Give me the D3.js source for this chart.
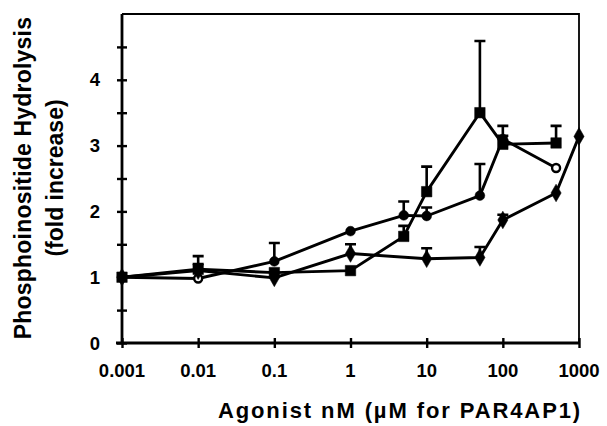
<!DOCTYPE html>
<html>
<head>
<meta charset="utf-8">
<script src="https://cdn.jsdelivr.net/npm/d3@7"></script>
<style>
  body { margin: 0; background: #fff; }
  svg { display: block; font-family: "Liberation Sans", Arial, sans-serif; }
</style>
</head>
<body>
<div id="chart"></div>
<script>
// Datos: [dosis, valor, tope de la barra de error]
const squareSeries = [
  [0.001, 1.0, null], [0.01, 1.12, 1.32], [0.1, 1.07, null], [1, 1.1, null],
  [5, 1.62, 1.78], [10, 2.3, 2.68], [50, 3.5, 4.59], [100, 3.02, 3.3], [500, 3.04, 3.3]
];
const circleSeries = [
  [0.001, 1.0, null], [0.01, 0.98, 1.2], [0.1, 1.24, 1.52], [1, 1.7, null],
  [5, 1.94, 2.15], [10, 1.93, 2.06], [50, 2.24, 2.72], [100, 3.1, 3.15], [500, 2.66, null]
];
const diamondSeries = [
  [0.001, 1.0, null], [0.01, 1.1, null], [0.1, 0.99, null], [1, 1.36, 1.5],
  [10, 1.28, 1.44], [50, 1.3, 1.46], [100, 1.87, 1.95], [500, 2.28, null], [1000, 3.14, null]
];
const openCircleAt = [0.01, 500];
const xTicks = [0.001, 0.01, 0.1, 1, 10, 100, 1000];
const xTickLabels = ["0.001", "0.01", "0.1", "1", "10", "100", "1000"];
const yTicks = [0, 1, 2, 3, 4];

const width = 607, height = 426;
const marginLeft = 122, marginRight = 28, marginTop = 14, marginBottom = 83;

const svg = d3.select("#chart").append("svg")
  .attr("width", width)
  .attr("height", height);

const x = d3.scaleLog()
  .domain([0.001, 1000])
  .range([marginLeft, width - marginRight]);

const y = d3.scaleLinear()
  .domain([0, 5])
  .range([height - marginBottom, marginTop]);

// Marco del gráfico (arriba y derecha más finos)
svg.append("path")
  .attr("d", `M${x(0.001)},${y(5)}H${x(1000)}V${y(0)}`)
  .attr("fill", "none")
  .attr("stroke", "#000")
  .attr("stroke-width", 1.8);

// Eje Y con marcas que cruzan el eje
svg.append("g")
  .attr("transform", `translate(${marginLeft},0)`)
  .call(d3.axisLeft(y).tickValues(d3.range(0, 5, 0.5)).tickSize(5).tickFormat(""))
  .call(g => g.selectAll(".tick line").attr("x2", 5).attr("x1", -5).attr("stroke-width", 2.4))
  .call(g => g.select(".domain").attr("d", `M0,${y(0)}V${y(5)}`).attr("stroke-width", 2.8));

svg.append("g")
  .selectAll("text")
  .data(yTicks)
  .join("text")
  .attr("x", 100)
  .attr("y", d => y(d))
  .attr("dy", "0.36em")
  .attr("text-anchor", "end")
  .attr("font-size", 18.5)
  .attr("font-weight", "bold")
  .text(d => d);

// Eje X logarítmico
svg.append("g")
  .attr("transform", `translate(0,${y(0)})`)
  .call(d3.axisBottom(x).tickValues(xTicks).tickSize(5).tickFormat(""))
  .call(g => g.selectAll(".tick line").attr("y1", -5).attr("y2", 5).attr("stroke-width", 2.4))
  .call(g => g.select(".domain").attr("d", `M${x(0.001) - 6},0H${x(1000)}`).attr("stroke-width", 2.8));

svg.append("g")
  .selectAll("text")
  .data(xTicks)
  .join("text")
  .attr("x", d => x(d))
  .attr("y", 377)
  .attr("text-anchor", "middle")
  .attr("font-size", 18.5)
  .attr("font-weight", "bold")
  .text((d, i) => xTickLabels[i]);

// Títulos de los ejes
svg.append("text")
  .attr("x", 400)
  .attr("y", 418)
  .attr("text-anchor", "middle")
  .attr("font-size", 22)
  .attr("font-weight", "bold")
  .attr("letter-spacing", 1.9)
  .text("Agonist nM (\u00b5M for PAR4AP1)");

const yTitle = svg.append("text")
  .attr("transform", `translate(0,178) rotate(-90)`)
  .attr("text-anchor", "middle")
  .attr("font-size", 23)
  .attr("font-weight", "bold");
yTitle.append("tspan").attr("x", 0).attr("y", 31).attr("letter-spacing", 0.2).text("Phosphoinositide Hydrolysis");
yTitle.append("tspan").attr("x", 0).attr("y", 63).text("(fold increase)");

const line = d3.line().x(d => x(d[0])).y(d => y(d[1]));
const allSeries = [
  { key: "square", data: squareSeries },
  { key: "circle", data: circleSeries },
  { key: "diamond", data: diamondSeries }
];

// Barras de error (solo hacia arriba)
const errors = allSeries.flatMap(s => s.data.filter(d => d[2] != null));
svg.append("g")
  .attr("stroke", "#000")
  .attr("stroke-width", 2.6)
  .selectAll("path")
  .data(errors)
  .join("path")
  .attr("fill", "none")
  .attr("d", d => `M${x(d[0])},${y(d[1])}V${y(d[2])}M${x(d[0]) - 5.5},${y(d[2])}H${x(d[0]) + 5.5}`);

// Líneas
svg.append("g")
  .selectAll("path")
  .data(allSeries)
  .join("path")
  .attr("fill", "none")
  .attr("stroke", "#000")
  .attr("stroke-width", 2.9)
  .attr("stroke-linejoin", "round")
  .attr("d", d => line(d.data));

// Marcadores
const symbolType = { square: d3.symbolSquare, circle: d3.symbolCircle, diamond: d3.symbolDiamond };
const symbolSize = { square: 110, circle: 75, diamond: 90 };
allSeries.forEach(s => {
  svg.append("g")
    .selectAll("path")
    .data(s.data)
    .join("path")
    .attr("transform", d => `translate(${x(d[0])},${y(d[1])})`)
    .attr("d", d => d3.symbol().type(symbolType[s.key]).size(s.key === "circle" && openCircleAt.includes(d[0]) ? 50 : symbolSize[s.key])())
    .attr("fill", d => s.key === "circle" && openCircleAt.includes(d[0]) ? "#fff" : "#000")
    .attr("stroke", "#000")
    .attr("stroke-width", d => s.key === "circle" && openCircleAt.includes(d[0]) ? 2.4 : 0.5);
});
</script>
</body>
</html>
